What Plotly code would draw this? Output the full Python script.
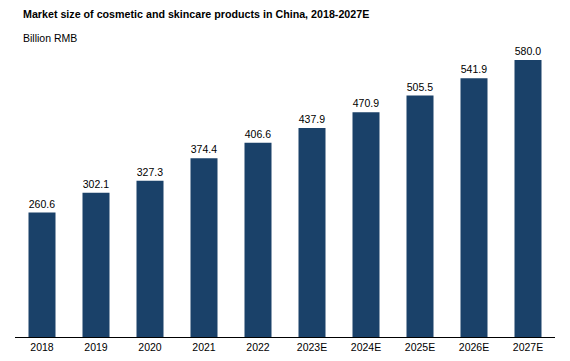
import plotly.graph_objects as go

categories = ["2018", "2019", "2020", "2021", "2022", "2023E", "2024E", "2025E", "2026E", "2027E"]
values = [260.6, 302.1, 327.3, 374.4, 406.6, 437.9, 470.9, 505.5, 541.9, 580.0]

# The HTML page body has an 8px default margin; figure coordinates = page - 8
W, H = 562, 353
ML, MR, MT, MB = 7, 15, 42, 24
W_plot = W - ML - MR
H_plot = H - MT - MB

def px_x(px):
    return (px - ML) / W_plot

def px_y(py):
    return (H - py - MB) / H_plot

FONT = "Liberation Sans, Arial"

fig = go.Figure(go.Bar(
    x=categories, y=values,
    marker=dict(color="#1a4169", line=dict(width=0)),
    text=[f"{v:.1f}" for v in values],
    textposition="outside",
    textfont=dict(family=FONT, size=10.5, color="#000"),
    cliponaxis=False,
))

fig.update_layout(
    width=W, height=H,
    margin=dict(l=ML, r=MR, t=MT, b=MB),
    paper_bgcolor="white", plot_bgcolor="white",
    bargap=0.5,
    showlegend=False,
    font=dict(family=FONT, size=10.5, color="#000"),
    xaxis=dict(showline=True, linecolor="#000", linewidth=1, ticks="", showgrid=False,
               tickfont=dict(size=10.5, color="#000"), automargin=False),
    yaxis=dict(visible=False, range=[0, 601], automargin=False),
    annotations=[
        dict(text="<b>Market size of cosmetic and skincare products in China, 2018-2027E</b>",
             x=px_x(13), y=px_y(6), xref="paper", yref="paper", showarrow=False,
             xanchor="left", yanchor="middle", font=dict(size=10.7, color="#000")),
        dict(text="Billion RMB", x=px_x(13), y=px_y(30), xref="paper", yref="paper", showarrow=False,
             xanchor="left", yanchor="middle", font=dict(size=10.5, color="#000")),
    ],
)

fig.write_html("out.html")
